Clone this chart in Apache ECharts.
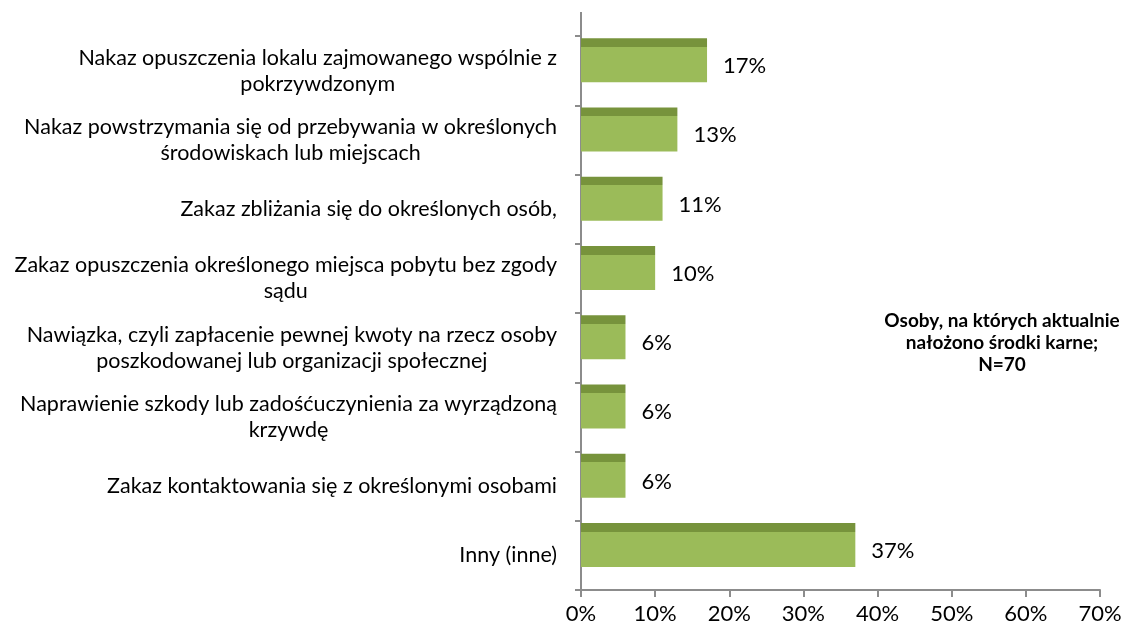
<!DOCTYPE html>
<html>
<head>
<meta charset="utf-8">
<script src="https://cdn.jsdelivr.net/npm/echarts@6/dist/echarts.min.js"></script>
<style>html,body{margin:0;padding:0;background:#fff}#c{width:1130px;height:634px}</style>
</head>
<body>
<div id="c"></div>
<script>
const categories = [
  "Nakaz opuszczenia lokalu zajmowanego wspólnie z\npokrzywdzonym",
  "Nakaz powstrzymania się od przebywania w określonych\nśrodowiskach lub miejscach",
  "Zakaz zbliżania się do określonych osób,",
  "Zakaz opuszczenia określonego miejsca pobytu bez zgody\nsądu",
  "Nawiązka, czyli zapłacenie pewnej kwoty na rzecz osoby\nposzkodowanej lub organizacji społecznej",
  "Naprawienie szkody lub zadośćuczynienia za wyrządzoną\nkrzywdę",
  "Zakaz kontaktowania się z określonymi osobami",
  "Inny (inne)"
];
const values = [17, 13, 11, 10, 6, 6, 6, 37];
const seriesName = "Osoby, na których aktualnie\nnałożono środki karne;\nN=70";
const xTicks = [0, 10, 20, 30, 40, 50, 60, 70];

const FONT = "Lato";
const chart = echarts.init(document.getElementById('c'), null, {renderer: 'canvas'});
const option = {
  animation: false,
  grid: {left: 581, right: 30, top: 36, bottom: 44},
  xAxis: {
    type: 'value', min: xTicks[0], max: xTicks[xTicks.length - 1], interval: xTicks[1] - xTicks[0],
    axisLine: {show: true, lineStyle: {color: '#8c8c8c', width: 2}},
    axisTick: {show: true, length: 7, lineStyle: {color: '#8c8c8c', width: 2}},
    splitLine: {show: false},
    axisLabel: {formatter: '{value}%', fontFamily: FONT, fontSize: 22, color: '#000', margin: 13}
  },
  yAxis: {
    type: 'category', inverse: true, data: categories,
    axisLine: {show: true, lineStyle: {color: '#8c8c8c', width: 2}},
    axisTick: {show: true, length: 6, lineStyle: {color: '#8c8c8c', width: 2}},
    axisLabel: {
      margin: 24, color: '#000',
      formatter: function (v) { return v.split('\n').map(s => '{a|' + s + '}').join('\n'); },
      rich: {a: {fontFamily: FONT, fontSize: 21.5, lineHeight: 26, align: 'center', color: '#000'}}
    }
  },
  series: [
    {
      name: seriesName, type: 'bar', data: values, barWidth: 44, barGap: '0%',
      itemStyle: {color: {type: 'linear', x: 0, y: 0, x2: 0, y2: 1, colorStops: [
        {offset: 0, color: '#77933C'}, {offset: 0.2, color: '#77933C'},
        {offset: 0.2, color: '#9BBB59'}, {offset: 1, color: '#9BBB59'}]}},
      label: {show: true, position: 'right', distance: 16, offset: [0, 6],
        formatter: '{c}%', fontFamily: FONT, fontSize: 22, color: '#000'}
    },
    {
      name: 'empty', type: 'bar', data: values.map(() => '-'), barWidth: 21
    }
  ],
  graphic: [
    {type: 'line', shape: {x1: 581, y1: 12, x2: 581, y2: 36}, style: {stroke: '#8c8c8c', lineWidth: 2}},
    {type: 'text', x: 1002, y: 310, style: {text: seriesName, align: 'center', fontFamily: FONT,
      fontWeight: 'bold', fontSize: 19, lineHeight: 22, fill: '#000'}}
  ]
};
chart.setOption(option);
</script>
</body>
</html>
